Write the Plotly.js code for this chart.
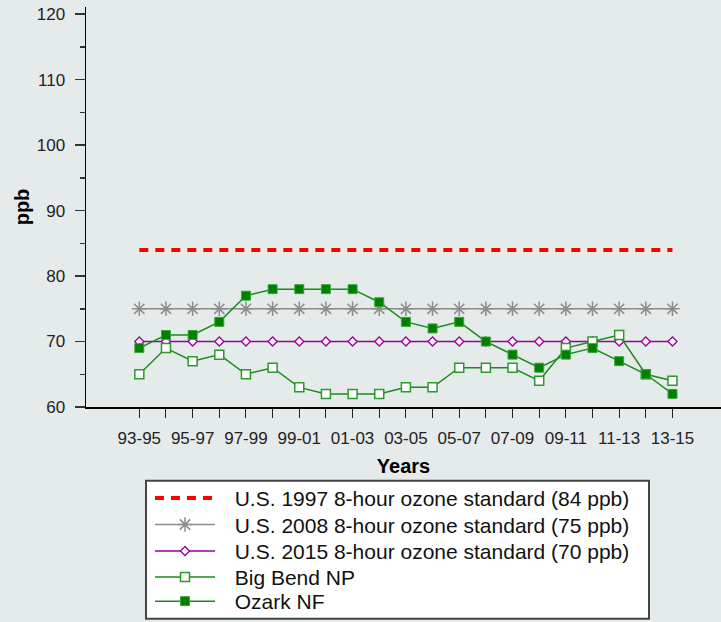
<!DOCTYPE html>
<html>
<head>
<meta charset="utf-8">
<script src="https://cdn.plot.ly/plotly-3.0.1.min.js"></script>
<style>
html,body{margin:0;padding:0;background:#e5ebeb;}
#chart{width:721px;height:622px;}
</style>
</head>
<body>
<div id="chart"></div>
<script>
var categories = ["93-95","94-96","95-97","96-98","97-99","98-00","99-01","00-02","01-03","02-04","03-05","04-06","05-07","06-08","07-09","08-10","09-11","10-12","11-13","12-14","13-15"];
var std1997 = [84,84,84,84,84,84,84,84,84,84,84,84,84,84,84,84,84,84,84,84,84];
var std2008 = [75,75,75,75,75,75,75,75,75,75,75,75,75,75,75,75,75,75,75,75,75];
var std2015 = [70,70,70,70,70,70,70,70,70,70,70,70,70,70,70,70,70,70,70,70,70];
var bigBend = [65,69,67,68,65,66,63,62,62,62,63,63,66,66,66,64,69,70,71,65,64];
var ozark   = [69,71,71,73,77,78,78,78,78,76,73,72,73,70,68,66,68,69,67,65,62];
var seriesNames = [
  "U.S. 1997 8-hour ozone standard (84 ppb)",
  "U.S. 2008 8-hour ozone standard (75 ppb)",
  "U.S. 2015 8-hour ozone standard (70 ppb)",
  "Big Bend NP",
  "Ozark NF"
];
var yTicks = [60,70,80,90,100,110,120];

var tickText = categories.map(function(c,i){ return i%2===0 ? c : ""; });
var pad = "\u2002\u2009";
var legendIds = ["legend","legend2","legend3","legend4","legend5"];

var traces = [
  {x:categories, y:std1997, name:pad+seriesNames[0], legend:legendIds[0], type:"scatter", mode:"lines",
   line:{color:"#ff0000", width:4, dash:"9px,7px"}},
  {x:categories, y:std2008, name:pad+seriesNames[1], legend:legendIds[1], type:"scatter", mode:"lines+markers",
   line:{color:"#8c8c8c", width:1.5},
   marker:{symbol:"asterisk-open", size:12, color:"#8c8c8c", line:{color:"#8c8c8c", width:1.5}}},
  {x:categories, y:std2015, name:pad+seriesNames[2], legend:legendIds[2], type:"scatter", mode:"lines+markers",
   line:{color:"#990099", width:1.5},
   marker:{symbol:"diamond", size:7, color:"#ffffff", line:{color:"#990099", width:1.3}}},
  {x:categories, y:bigBend, name:pad+seriesNames[3], legend:legendIds[3], type:"scatter", mode:"lines+markers",
   line:{color:"#1a8c1a", width:1.5},
   marker:{symbol:"square", size:9, color:"#ffffff", line:{color:"#2a9a2a", width:1.5}}},
  {x:categories, y:ozark, name:pad+seriesNames[4], legend:legendIds[4], type:"scatter", mode:"lines+markers",
   line:{color:"#1a8c1a", width:1.5},
   marker:{symbol:"square", size:9, color:"#008000", line:{color:"#3aa53a", width:1}}}
];

var plotTop = 7, plotBottom = 408.5, plotLeft = 86, plotRight = 721;
function py(p){ return -(p - plotBottom)/(plotBottom - plotTop); }
function px(p){ return (p - plotLeft)/(plotRight - plotLeft); }

var layout = {
  width:721, height:622,
  paper_bgcolor:"#e5ebeb", plot_bgcolor:"#e5ebeb",
  margin:{l:86, r:0, t:7, b:213.5},
  font:{family:"Liberation Sans, Arial, sans-serif", color:"#111"},
  showlegend:true,
  xaxis:{
    type:"category", range:[-2, 21.82], autorange:false,
    tickmode:"array", tickvals:categories, ticktext:tickText,
    ticks:"outside", ticklen:9, tickwidth:1, tickcolor:"#222",
    showline:true, linecolor:"#000", linewidth:2,
    showgrid:false, zeroline:false,
    tickfont:{size:17, color:"#222"}, ticklabelstandoff:6,
    title:{text:"<b>Years</b>", font:{size:20, color:"#000"}, standoff:12}
  },
  yaxis:{
    range:[60, 121.1], autorange:false,
    tickmode:"array", tickvals:yTicks,
    ticks:"outside", ticklen:10, tickwidth:1.5, tickcolor:"#333",
    minor:{dtick:5, ticks:"outside", ticklen:5, tickwidth:1.5, tickcolor:"#333", showgrid:false},
    showline:true, linecolor:"#000", linewidth:1.5,
    showgrid:false, zeroline:false,
    tickfont:{size:17, color:"#222"}, ticklabelstandoff:6,
    title:{text:"<b>ppb</b>", font:{size:20, color:"#000"}, standoff:1}
  },
  shapes:[
    {type:"rect", xref:"paper", yref:"paper", layer:"above",
     x0:px(146), x1:px(649), y0:py(621), y1:py(482.5),
     fillcolor:"#ffffff", line:{color:"#444", width:2}}
  ]
};

var rowY = [499, 525.5, 552, 578, 603.5];
legendIds.forEach(function(id, i){
  layout[id] = {
    x:px(150), y:py(rowY[i]), xanchor:"left", yanchor:"middle",
    bgcolor:"rgba(0,0,0,0)", borderwidth:0,
    font:{size:21, color:"#111"}, itemwidth:60
  };
});

Plotly.newPlot("chart", traces, layout, {displayModeBar:false, staticPlot:true});
</script>
</body>
</html>
